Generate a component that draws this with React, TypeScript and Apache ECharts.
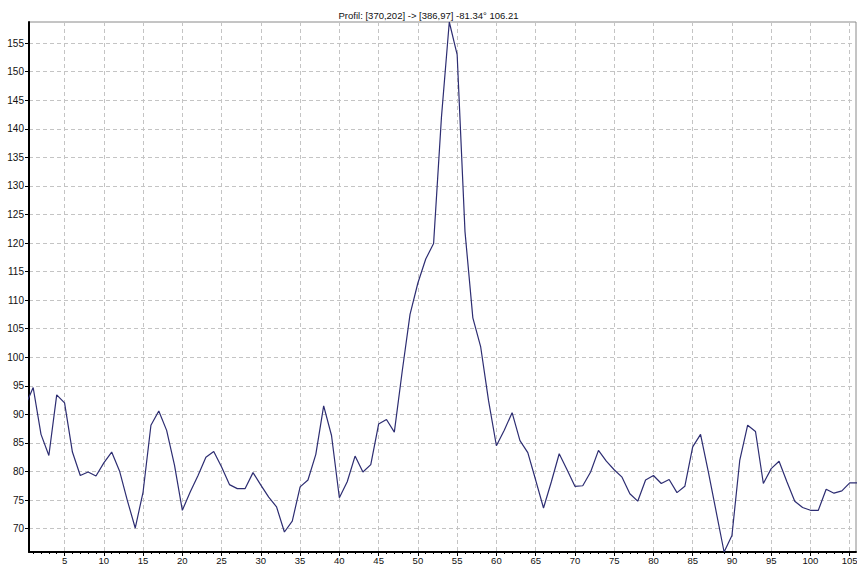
import React, { useEffect, useRef } from "react";
import * as echarts from "echarts";

const titleText = "Profil: [370,202] -> [386,97] -81.34° 106.21";

const profileValues: number[] = [
  91.5, 94.7, 86.5, 82.8, 93.4, 92.0, 83.4, 79.3, 79.9, 79.2,
  81.5, 83.4, 80.1, 74.9, 70.1, 76.4, 88.1, 90.6, 87.2, 81.1,
  73.2, 76.4, 79.3, 82.5, 83.5, 80.8, 77.7, 77.0, 77.0, 79.8,
  77.6, 75.5, 73.8, 69.4, 71.3, 77.3, 78.5, 83.0, 91.5, 86.3,
  75.4, 78.2, 82.7, 79.9, 81.2, 88.3, 89.1, 86.9, 97.5, 107.5,
  113.0, 117.2, 119.9, 142.0, 158.7, 153.0, 122.0, 106.9, 101.8, 92.4,
  84.5, 87.2, 90.3, 85.4, 83.3, 78.5, 73.6, 78.2, 83.1, 80.3,
  77.4, 77.5, 79.9, 83.7, 81.8, 80.3, 79.0, 76.1, 74.8, 78.5,
  79.3, 77.9, 78.6, 76.3, 77.4, 84.3, 86.5, 79.9, 72.9, 65.9,
  68.8, 82.0, 88.1, 87.0, 77.9, 80.5, 81.8, 78.2, 74.8, 73.7,
  73.2, 73.2, 76.9, 76.2, 76.6, 78.0, 78.0,
];

const xTickValues: number[] = [5, 10, 15, 20, 25, 30, 35, 40, 45, 50, 55, 60, 65, 70, 75, 80, 85, 90, 95, 100, 105];
const xMinorTickValues: number[] = Array.from({ length: 105 }, (_, k) => k + 1);
const yTickValues: number[] = [70, 75, 80, 85, 90, 95, 100, 105, 110, 115, 120, 125, 130, 135, 140, 145, 150, 155];

const X_MIN = 0.47;
const X_MAX = 105.8;
const Y_MIN = 65.9;
const Y_MAX = 158.7;

const FONT = "Arial, 'Liberation Sans', sans-serif";

export default function App() {
  const ref = useRef<HTMLDivElement>(null);

  useEffect(() => {
    if (!ref.current) return;
    const chart = echarts.init(ref.current, undefined, { renderer: "svg" });
    const seriesData = profileValues.map((v, i) => [i, v]);
    const splitLineStyle = { color: "#c4c4c4", type: [4, 3] as any, width: 1 };
    chart.setOption({
      animation: false,
      backgroundColor: "#ffffff",
      title: {
        text: titleText,
        left: "center",
        top: 5,
        textStyle: { fontSize: 9.5, fontWeight: "normal", color: "#111", fontFamily: FONT },
      },
      grid: {
        left: 29,
        right: 1,
        top: 22,
        bottom: 14,
        show: true,
        borderColor: "#8a8a8a",
        borderWidth: 1,
        containLabel: false,
        outerBoundsMode: "none",
      },
      xAxis: [
        {
          type: "value",
          min: X_MIN,
          max: X_MAX,
          position: "bottom",
          axisLine: { show: true, onZero: false, lineStyle: { color: "#000", width: 2 } },
          axisTick: { show: true, length: 4, customValues: xTickValues, lineStyle: { color: "#000" } },
          axisLabel: {
            show: true,
            customValues: xTickValues,
            margin: 3,
            fontSize: 9.5,
            color: "#111",
            fontFamily: FONT,
          },
          splitLine: { show: true, lineStyle: splitLineStyle },
        },
        {
          type: "value",
          min: X_MIN,
          max: X_MAX,
          position: "bottom",
          axisLine: { show: false },
          axisTick: { show: true, length: 2, customValues: xMinorTickValues, lineStyle: { color: "#000" } },
          axisLabel: { show: false },
          splitLine: { show: false },
        },
      ],
      yAxis: {
        type: "value",
        min: Y_MIN,
        max: Y_MAX,
        axisLine: { show: true, onZero: false, lineStyle: { color: "#000", width: 2 } },
        axisTick: { show: true, length: 4, customValues: yTickValues, lineStyle: { color: "#000" } },
        axisLabel: {
          show: true,
          customValues: yTickValues,
          margin: 5,
          fontSize: 10,
          color: "#111",
          fontFamily: FONT,
        },
        splitLine: { show: true, lineStyle: splitLineStyle },
      },
      series: [
        {
          type: "line",
          xAxisIndex: 0,
          yAxisIndex: 0,
          data: seriesData,
          symbol: "none",
          clip: true,
          lineStyle: { color: "#2d2d72", width: 1.2 },
        },
      ],
    });
    return () => chart.dispose();
  }, []);

  return (
    <div
      ref={ref}
      style={{ position: "fixed", left: 0, top: 0, width: 857, height: 566, background: "#fff" }}
    />
  );
}
